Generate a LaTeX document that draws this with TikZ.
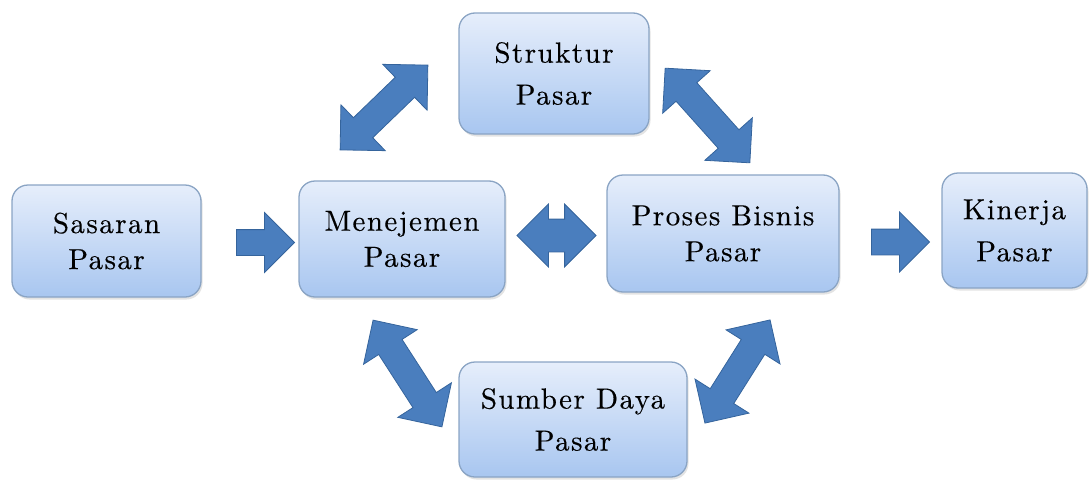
\documentclass[tikz,border=0pt]{standalone}
\usepackage{fontspec}
\newfontfamily\labelfont{lmroman10-regular.otf}[LetterSpace=5, FakeBold=0.3]
\usetikzlibrary{shapes.arrows,shadows,calc}
\definecolor{boxtop}{HTML}{E6EEFB}
\definecolor{boxbot}{HTML}{A8C6F0}
\definecolor{boxline}{HTML}{8AA4C4}
\definecolor{arrfill}{HTML}{4A7EBE}
\definecolor{arrline}{HTML}{35649C}
\begin{document}
\begin{tikzpicture}[x=1pt,y=-1pt,
  box/.style={draw=boxline, line width=1.3pt, rounded corners=16pt,
    top color=boxtop, bottom color=boxbot, align=center, inner sep=0pt,
    text=black,
    drop shadow={shadow xshift=1.5pt,shadow yshift=-2.5pt,opacity=0.22}},
  txtA/.style={font=\labelfont\fontsize{29}{36}\selectfont},
  txtB/.style={font=\labelfont\fontsize{29}{42}\selectfont},
  sarrow/.style={single arrow, single arrow head extend=17pt,
    single arrow tip angle=90, fill=arrfill, draw=arrline, line width=0.8pt,
    inner xsep=0pt, inner ysep=12.5pt, outer sep=0pt, sloped},
  darrow/.style={double arrow, double arrow head extend=18pt,
    double arrow tip angle=90, fill=arrfill, draw=arrline, line width=0.8pt,
    inner xsep=0pt, inner ysep=13.5pt, outer sep=0pt, sloped}
]
\useasboundingbox (0,0) rectangle (1089,479);

% boxes
\node[box, txtA, minimum width=189pt, minimum height=112pt] (sas) at (106.5,241) {Sasaran\\Pasar};
\node[box, txtA, minimum width=206pt, minimum height=116pt] (men) at (402,239) {Menejemen\\Pasar};
\node[box, txtB, minimum width=190pt, minimum height=121pt] (str) at (554,73.5) {Struktur\\Pasar};
\node[box, txtA, minimum width=232pt, minimum height=117pt] (pro) at (723,233.5) {Proses Bisnis\\Pasar};
\node[box, txtB, minimum width=145pt, minimum height=115pt] (kin) at (1014.5,230.5) {Kinerja\\Pasar};
\node[box, txtB, minimum width=228pt, minimum height=115pt] (sum) at (573,419.5) {Sumber Daya\\Pasar};

% arrow end points
\coordinate (a1s) at (230,242.5);
\coordinate (a1e) at (288,242.5);
\coordinate (a2s) at (517,235.5);
\coordinate (a2e) at (596,235.5);
\coordinate (a3s) at (865,242);
\coordinate (a3e) at (923,242);
\coordinate (d1s) at (340,150);
\coordinate (d1e) at (428,65);
\coordinate (d2s) at (665,68);
\coordinate (d2e) at (750,163);
\coordinate (d3s) at (373,320);
\coordinate (d3e) at (442,427);
\coordinate (d4s) at (705,423);
\coordinate (d4e) at (770,320);

% arrows
\path (a1s) -- node[sarrow, minimum height=58pt] (sasmen) {} (a1e);
\path (a2s) -- node[darrow, minimum height=79pt, inner ysep=16pt, double arrow head extend=15pt] (menpro) {} (a2e);
\path (a3s) -- node[sarrow, minimum height=58pt] (prokin) {} (a3e);
\path (d1s) -- node[darrow, minimum height=122pt] (menstr) {} (d1e);
\path (d2s) -- node[darrow, minimum height=127pt] (strpro) {} (d2e);
\path (d3s) -- node[darrow, minimum height=127pt] (mensum) {} (d3e);
\path (d4s) -- node[darrow, minimum height=122pt] (sumpro) {} (d4e);
\end{tikzpicture}
\end{document}
